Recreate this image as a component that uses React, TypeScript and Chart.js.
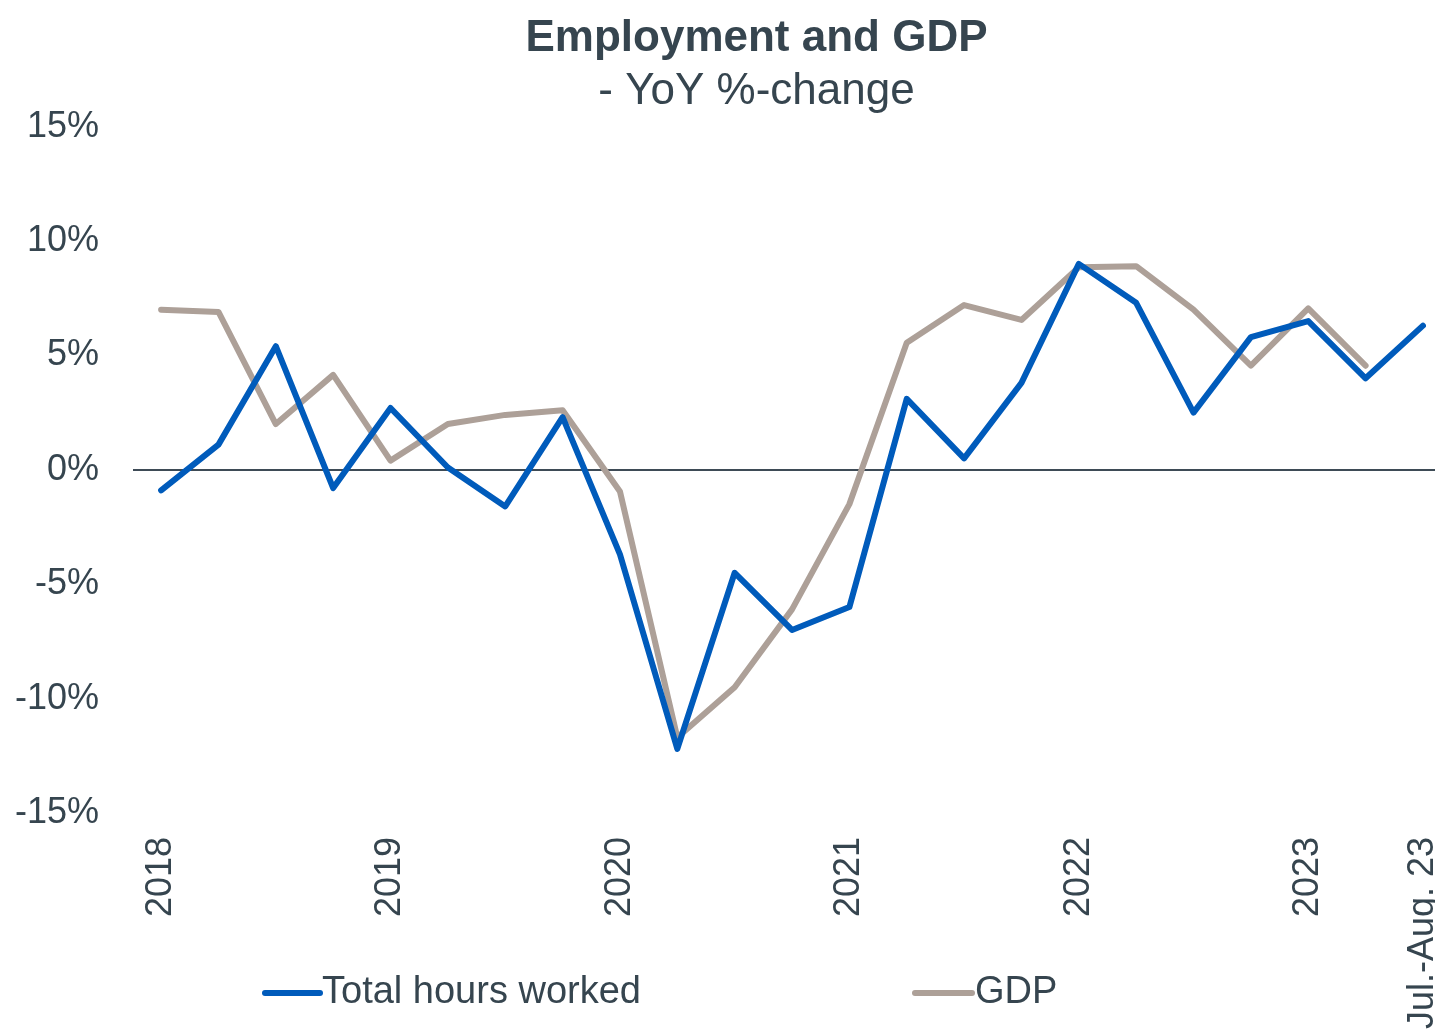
import { useEffect, useRef } from 'react';
import { Chart, registerables } from 'chart.js';

Chart.register(...registerables);

// Quarterly observations, 2018 Q1 .. 2023 Q3 (Jul.-Aug. 23)
const quarterIndex = [0, 1, 2, 3, 4, 5, 6, 7, 8, 9, 10, 11, 12, 13, 14, 15, 16, 17, 18, 19, 20, 21, 22];
const tickPositions = [0, 4, 8, 12, 16, 20, 22];
const tickLabels = ['2018', '2019', '2020', '2021', '2022', '2023', 'Jul.-Aug. 23'];
const yTickValues = [-15, -10, -5, 0, 5, 10, 15];

const hoursWorked = [
  -0.9, 1.1, 5.4, -0.8, 2.7, 0.1, -1.6, 2.3,
  -3.7, -12.2, -4.5, -7.0, -6.0, 3.1, 0.5, 3.8,
  9.0, 7.3, 2.5, 5.8, 6.5, 4.0, 6.3,
];
const gdp = [
  7.0, 6.9, 2.0, 4.15, 0.4, 2.0, 2.4, 2.6,
  -0.95, -11.7, -9.5, -6.1, -1.5, 5.55, 7.2, 6.55,
  8.85, 8.9, 7.0, 4.55, 7.05, 4.55, null,
];

const seriesNames = ['Total hours worked', 'GDP'];
const seriesColors = ['#005BBB', '#ADA098'];
const titleText = 'Employment and GDP';
const subtitleText = '- YoY %-change';

const FONT = "'Liberation Sans', Arial, sans-serif";
const TEXT = '#36454F';

const shiftTitles = {
  id: 'shiftTitles',
  afterLayout(chart: any) {
    for (const b of chart.boxes) {
      const t = b && b.options && b.options.text;
      if (t === titleText || t === subtitleText) {
        b.left += 39;
        b.right += 39;
      }
    }
  },
};

const bottomLegend = {
  id: 'bottomLegend',
  afterDraw(chart: any) {
    const ctx = chart.ctx;
    const items = [
      { x0: 265, x1: 320, tx: 322 },
      { x0: 915, x1: 972, tx: 975 },
    ];
    const y = 993;
    ctx.save();
    items.forEach((it, i) => {
      ctx.strokeStyle = seriesColors[i];
      ctx.lineWidth = 6;
      ctx.lineCap = 'round';
      ctx.beginPath();
      ctx.moveTo(it.x0, y);
      ctx.lineTo(it.x1, y);
      ctx.stroke();
      ctx.fillStyle = TEXT;
      ctx.font = `38px ${FONT}`;
      ctx.textBaseline = 'middle';
      ctx.textAlign = 'left';
      ctx.fillText(seriesNames[i], it.tx, y);
    });
    ctx.restore();
  },
};

export default function App() {
  const ref = useRef<HTMLCanvasElement>(null);

  useEffect(() => {
    if (!ref.current) return;
    const mk = (vals: (number | null)[]) => quarterIndex.map((x, i) => ({ x, y: vals[i] }));
    const chart = new Chart(ref.current, {
      type: 'line',
      data: {
        datasets: [
          {
            label: seriesNames[0],
            data: mk(hoursWorked) as any,
            borderColor: seriesColors[0],
            backgroundColor: seriesColors[0],
            borderWidth: 6,
            pointRadius: 0,
            tension: 0,
            borderCapStyle: 'round',
            borderJoinStyle: 'round',
          },
          {
            label: seriesNames[1],
            data: mk(gdp) as any,
            borderColor: seriesColors[1],
            backgroundColor: seriesColors[1],
            borderWidth: 6,
            pointRadius: 0,
            tension: 0,
            borderCapStyle: 'round',
            borderJoinStyle: 'round',
            spanGaps: false,
          },
        ],
      },
      options: {
        responsive: false,
        animation: false,
        devicePixelRatio: 1,
        layout: { padding: 0 },
        plugins: {
          legend: { display: false },
          tooltip: { enabled: false },
          title: {
            display: true,
            text: titleText,
            color: TEXT,
            font: { family: FONT, size: 44, weight: 'bold', lineHeight: 1.2 },
            padding: { top: 12, bottom: 0 },
          },
          subtitle: {
            display: true,
            text: subtitleText,
            color: TEXT,
            font: { family: FONT, size: 44, weight: 'normal', lineHeight: 1.2 },
            padding: { top: 1, bottom: 8 },
          },
        },
        scales: {
          x: {
            type: 'linear',
            min: -0.49,
            max: 22.21,
            grid: { display: false, drawTicks: false },
            border: { display: false },
            afterBuildTicks: (s: any) => {
              s.ticks = tickPositions.map((v) => ({ value: v }));
            },
            afterFit: (s: any) => {
              s.height = 220;
              s.paddingLeft = 0;
              s.paddingRight = 0;
            },
            ticks: {
              autoSkip: false,
              minRotation: 90,
              maxRotation: 90,
              padding: 24,
              color: TEXT,
              font: { family: FONT, size: 36 },
              callback: (v: any) => {
                const k = tickPositions.indexOf(Number(v));
                return k >= 0 ? tickLabels[k] : '';
              },
            },
          },
          y: {
            type: 'linear',
            min: -15,
            max: 15,
            afterBuildTicks: (s: any) => {
              s.ticks = yTickValues.map((v) => ({ value: v }));
            },
            afterFit: (s: any) => {
              s.width = 133;
            },
            grid: {
              drawTicks: false,
              lineWidth: 2,
              color: (c: any) => (c.tick && c.tick.value === 0 ? '#3E4B56' : 'rgba(0,0,0,0)'),
            },
            border: { display: false },
            ticks: {
              padding: 34,
              color: TEXT,
              font: { family: FONT, size: 36 },
              callback: (v: any) => `${v}%`,
            },
          },
        },
      },
      plugins: [shiftTitles, bottomLegend],
    });
    return () => chart.destroy();
  }, []);

  return (
    <div style={{ position: 'absolute', left: 0, top: 0, width: 1435, height: 1033, background: '#fff' }}>
      <canvas ref={ref} width={1435} height={1033} style={{ display: 'block' }} />
    </div>
  );
}
